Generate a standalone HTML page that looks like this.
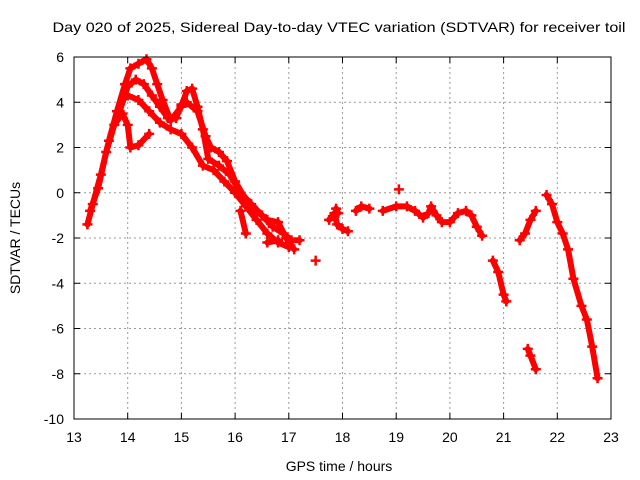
<!DOCTYPE html>
<html><head><meta charset="utf-8"><style>
body{margin:0;background:#fff;}
svg{display:block;font-family:"Liberation Sans",sans-serif;}
</style></head><body>
<svg id="chart" width="640" height="480">
<text x="339" y="32" text-anchor="middle" font-size="14" textLength="573" lengthAdjust="spacingAndGlyphs">Day 020 of 2025, Sidereal Day-to-day VTEC variation (SDTVAR) for receiver toil</text>
<g id="grid"></g><g id="ticks"></g><g id="marks"></g>
<rect x="74" y="57" width="537" height="362" fill="none" stroke="#000" stroke-width="1"/>
<text x="339" y="471" text-anchor="middle" font-size="14">GPS time / hours</text>
<text transform="translate(20,238) rotate(-90)" text-anchor="middle" font-size="14">SDTVAR / TECUs</text>
</svg>
<script>
const xTicks=[13,14,15,16,17,18,19,20,21,22,23];
const yTicks=[6,4,2,0,-2,-4,-6,-8,-10];
const track1=[[13.25,-1.4],[13.35,-0.5],[13.5,0.8],[13.65,2.3],[13.8,3.6],[13.95,4.8],[14.05,5.5],[14.2,5.7],[14.35,5.9],[14.45,5.5],[14.55,4.8],[14.65,4.1],[14.8,3.2],[15.0,3.8],[15.1,4.5],[15.2,4.6],[15.3,3.8],[15.4,2.8],[15.5,1.5],[15.7,1.2],[15.9,0.8],[16.1,0],[16.3,-0.5],[16.5,-1.0],[16.7,-1.5],[16.9,-1.8],[17.05,-2.1],[17.2,-2.1]];
const track2=[[13.3,-0.8],[13.45,0.2],[13.6,1.8],[13.75,3.0],[13.9,3.5],[14.0,3.0],[14.05,2.0],[14.2,2.1],[14.4,2.6]];
const track3=[[13.85,3.6],[14.0,4.7],[14.15,5.0],[14.3,4.8],[14.45,4.3],[14.6,3.8],[14.75,3.3],[14.9,3.3],[15.0,3.9],[15.1,4.0],[15.3,3.6],[15.45,2.5],[15.55,2.0],[15.7,1.8],[15.85,1.4],[16.0,0.5],[16.2,-0.3],[16.4,-0.8],[16.6,-1.2],[16.8,-1.3],[16.95,-2.0],[17.1,-2.5]];
const track4=[[14.0,4.3],[14.2,4.1],[14.4,3.6],[14.6,3.1],[14.8,2.8],[15.0,2.6],[15.2,2.0],[15.4,1.2],[15.6,1.0],[15.8,0.5],[16.0,0.0],[16.2,-0.6],[16.4,-1.2],[16.6,-1.8],[16.8,-2.2],[17.0,-2.4]];
const track5=[[16.1,-0.8],[16.2,-1.8]];
const track6=[[16.6,-2.2],[16.8,-2.1]];
const track7=[[17.5,-3.0]];
const track8=[[17.75,-1.2],[17.85,-0.9],[17.9,-1.4],[18.0,-1.6],[18.1,-1.7]];
const track9=[[17.88,-0.7],[17.92,-0.9]];
const track10=[[18.25,-0.8],[18.35,-0.6],[18.5,-0.7]];
const track11=[[18.75,-0.8],[19.0,-0.6],[19.2,-0.6],[19.35,-0.8],[19.5,-1.1],[19.6,-0.9],[19.65,-0.6],[19.75,-1.0],[19.85,-1.3],[20.0,-1.3],[20.15,-0.9],[20.3,-0.8],[20.4,-1.0],[20.5,-1.5],[20.6,-1.9]];
const track12=[[19.05,0.15]];
const track13=[[20.8,-3.0],[20.9,-3.5],[21.0,-4.5],[21.05,-4.8]];
const track14=[[21.3,-2.1],[21.4,-1.8],[21.5,-1.2],[21.6,-0.8]];
const track15=[[21.45,-6.9],[21.5,-7.2],[21.6,-7.8]];
const track16=[[21.8,-0.1],[21.9,-0.5],[22.0,-1.3],[22.1,-1.8],[22.2,-2.5],[22.3,-3.8],[22.45,-5.0],[22.55,-5.6],[22.65,-6.8],[22.75,-8.2]];
const tracks=[track1,track2,track3,track4,track5,track6,track7,track8,track9,track10,track11,track12,track13,track14,track15,track16];

const NS="http://www.w3.org/2000/svg";
const X0=74,X1=611,Y0=57,Y1=419;
function xs(h){return X0+(h-13)/10*(X1-X0);}
function ys(v){return Y0+(6-v)/16*(Y1-Y0);}
function mk(tag,attrs,parent){const e=document.createElementNS(NS,tag);for(const k in attrs)e.setAttribute(k,attrs[k]);parent.appendChild(e);return e;}
const grid=document.getElementById('grid'),ticks=document.getElementById('ticks'),marks=document.getElementById('marks');
xTicks.forEach(t=>{const x=xs(t);
 if(t>13&&t<23){const g=mk('line',{x1:x,x2:x,y1:Y0,y2:Y1,stroke:'#999','stroke-dasharray':'2,3'},grid);
 
 }
 mk('line',{x1:x,x2:x,y1:Y1,y2:Y1-6,stroke:'#000'},ticks);mk('line',{x1:x,x2:x,y1:Y0,y2:Y0+6,stroke:'#000'},ticks);
 const l=mk('text',{x:x,y:Y1+23,'text-anchor':'middle','font-size':14},ticks);l.textContent=t;
 
 });
yTicks.forEach(t=>{const y=ys(t);
 if(t<6&&t>-10){const g=mk('line',{x1:X0,x2:X1,y1:y,y2:y,stroke:'#999','stroke-dasharray':'2,3'},grid);
 
 }
 mk('line',{x1:X0,x2:X0+6,y1:y,y2:y,stroke:'#000'},ticks);mk('line',{x1:X1,x2:X1-6,y1:y,y2:y,stroke:'#000'},ticks);
 const l=mk('text',{x:X0-10,y:y+5,'text-anchor':'end','font-size':14},ticks);l.textContent=t;
 
 });
tracks.forEach((tr,i)=>{
 const g=mk('g',{},marks);
 
 
 const pts=tr.map(p=>xs(p[0])+','+ys(p[1])).join(' ');
 if(tr.length>1)mk('polyline',{points:pts,fill:'none',stroke:'#f00','stroke-width':6,'stroke-linejoin':'round','stroke-linecap':'round'},g);
 tr.forEach(p=>{const x=xs(p[0]),y=ys(p[1]);
  mk('path',{d:`M${x-5},${y}H${x+5}M${x},${y-5}V${y+5}`,stroke:'#f00','stroke-width':2.5},g);});
});
</script>
</body></html>
